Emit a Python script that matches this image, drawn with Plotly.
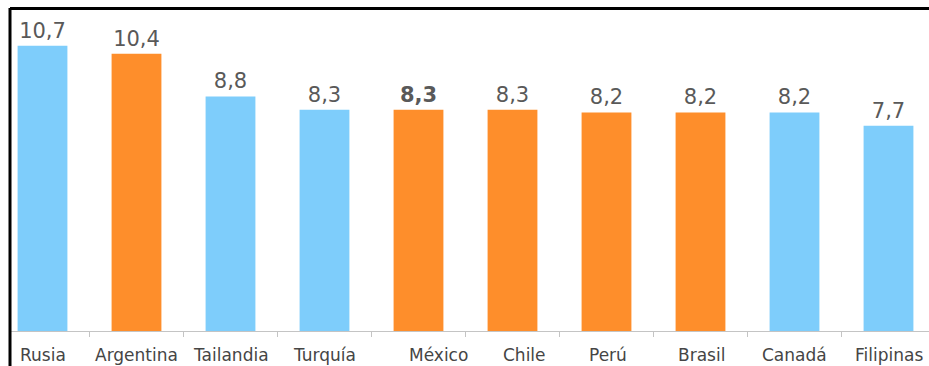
import plotly.graph_objects as go

categories = ["Rusia", "Argentina", "Tailandia", "Turquía", "México",
              "Chile", "Perú", "Brasil", "Canadá", "Filipinas"]
values = [10.7, 10.4, 8.8, 8.3, 8.3, 8.3, 8.2, 8.2, 8.2, 7.7]
groups = ["blue", "orange", "blue", "blue", "orange",
          "orange", "orange", "orange", "blue", "blue"]
highlight = "México"

color_map = {"blue": "#7ECDFB", "orange": "#FE8E2B"}
label_xshift = [0, 0, 0, 0, 20, 12, 1, 1, 0, 0]

bar_colors = [color_map[g] for g in groups]
templates = ["<b>%{y:.1f}</b>" if c == highlight else "%{y:.1f}" for c in categories]

fig = go.Figure()
fig.add_trace(go.Bar(
    x=categories, y=values,
    marker=dict(color=bar_colors, line=dict(width=0)),
    width=0.53,
    texttemplate=templates,
    textposition="outside",
    textfont=dict(family="DejaVu Sans", size=21, color="#595959"),
    cliponaxis=False,
    hoverinfo="skip",
))

for i, c in enumerate(categories):
    fig.add_annotation(
        x=c, y=0, xref="x", yref="y",
        text=c, showarrow=False,
        yanchor="middle", xanchor="center",
        yshift=-24, xshift=label_xshift[i],
        font=dict(family="DejaVu Sans", size=17, color="#454545"),
    )

H = 331.0
# frame lines (left and top)
fig.add_shape(type="line", xref="paper", yref="paper",
              x0=0, x1=0, y0=1 - 8 / H, y1=-35 / H,
              line=dict(color="black", width=3))
fig.add_shape(type="line", xref="paper", yref="paper",
              x0=0, x1=1.01, y0=1 - 8.5 / H, y1=1 - 8.5 / H,
              line=dict(color="black", width=3))

fig.update_layout(
    width=929, height=366,
    margin=dict(l=10, r=0, t=0, b=35),
    paper_bgcolor="white", plot_bgcolor="white",
    separators=",.",
    showlegend=False,
    bargap=0.47,
    xaxis=dict(
        type="category",
        range=[-0.3457, 9.4309],
        showline=True, linecolor="#C4C4C4", linewidth=1,
        ticks="outside", tickson="boundaries", ticklen=5,
        tickcolor="#C4C4C4", tickwidth=1,
        showticklabels=False, showgrid=False, zeroline=False,
        fixedrange=True,
    ),
    yaxis=dict(
        range=[0, 12.42], visible=False, showgrid=False,
        zeroline=False, fixedrange=True,
    ),
)

fig.write_html("out.html")
